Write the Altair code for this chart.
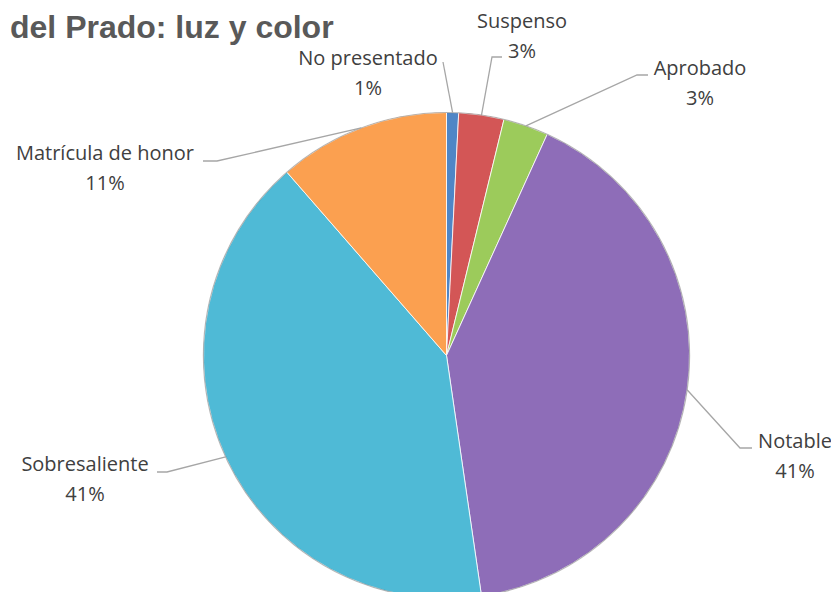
import math
import altair as alt
import pandas as pd

# ---- data ----
categories = ["No presentado", "Suspenso", "Aprobado", "Notable", "Sobresaliente", "Matrícula de honor"]
values = [0.8, 3.0, 3.0, 40.9, 40.9, 11.4]
pct_labels = ["1%", "3%", "3%", "41%", "41%", "11%"]
colors = ["#4F86C6", "#D35656", "#9CCB5B", "#8E6DB8", "#4FBAD6", "#FBA050"]
title_text = "del Prado: luz y color"

# ---- layout (chart coordinates, px) ----
W, H = 823, 584
CX, CY, R = 438.5, 347.5, 243
FONT = "Open Sans"
label_pos = {
    "No presentado": (360, 51),
    "Suspenso": (514, 14),
    "Aprobado": (692, 61),
    "Notable": (787, 434),
    "Sobresaliente": (77, 457),
    "Matrícula de honor": (97, 146),
}
elbows = {
    "No presentado": [(435, 54)],
    "Suspenso": [(484, 49), (494, 49)],
    "Aprobado": [(629, 67), (640, 67)],
    "Notable": [(732, 440), (744, 440)],
    "Sobresaliente": [(159, 464), (149, 464)],
    "Matrícula de honor": [(209, 153), (195, 153)],
}
LINE_GAP = 30

pie = pd.DataFrame({"cat": categories, "value": values, "order": list(range(len(categories)))})

total = sum(values)
rows = []
cum = 0.0
for c, v in zip(categories, values):
    mid = (cum + v / 2) / total * 2 * math.pi
    cum += v
    sx = CX + R * math.sin(mid)
    sy = CY - R * math.cos(mid)
    pts = [(sx, sy)] + elbows[c]
    for i, (px, py) in enumerate(pts):
        rows.append({"lab": c, "seq": i, "px": px, "py": py})
leader = pd.DataFrame(rows)

trows = []
for c, p in zip(categories, pct_labels):
    lx, ly = label_pos[c]
    trows.append({"t": c, "tx": lx, "ty": ly})
    trows.append({"t": p, "tx": lx, "ty": ly + LINE_GAP})
texts = pd.DataFrame(trows)

xs = alt.Scale(domain=[0, W], range=[0, W], nice=False, zero=False)
ys = alt.Scale(domain=[0, H], range=[0, H], nice=False, zero=False)

arcs = alt.Chart(pie).mark_arc(radius=R, stroke="#ffffff", strokeWidth=1, strokeOpacity=0.8).encode(
    theta=alt.Theta("value:Q", stack=True),
    color=alt.Color("cat:N", scale=alt.Scale(domain=categories, range=colors), legend=None),
    order=alt.Order("order:Q"),
    x=alt.value(CX),
    y=alt.value(CY),
)

rim = alt.Chart(pd.DataFrame({"k": [1]})).mark_arc(
    radius=R, theta=0, theta2=2 * math.pi, fillOpacity=0, stroke="#3a3a3a", strokeWidth=1.2, strokeOpacity=0.35
).encode(x=alt.value(CX), y=alt.value(CY))

lines = alt.Chart(leader).mark_line(color="#A6A6A6", strokeWidth=1.3).encode(
    x=alt.X("px:Q", scale=xs, axis=None),
    y=alt.Y("py:Q", scale=ys, axis=None),
    detail="lab:N",
    order="seq:Q",
)

labels = alt.Chart(texts).mark_text(font=FONT, fontSize=20, color="#404040", align="center", baseline="middle").encode(
    x=alt.X("tx:Q", scale=xs, axis=None),
    y=alt.Y("ty:Q", scale=ys, axis=None),
    text="t:N",
)

title = alt.Chart(pd.DataFrame({"t": [title_text]})).mark_text(
    font="Liberation Sans", fontSize=32, fontWeight="bold", color="#595959", align="left", baseline="alphabetic"
).encode(x=alt.value(2), y=alt.value(30), text="t:N")

chart = alt.layer(arcs, rim, lines, labels, title).properties(
    width=W, height=H, padding=0, autosize=alt.AutoSizeParams(type="none")
).configure(background="#ffffff").configure_view(stroke=None)

chart.save("out.html", embed_options={"renderer": "svg", "actions": False})
